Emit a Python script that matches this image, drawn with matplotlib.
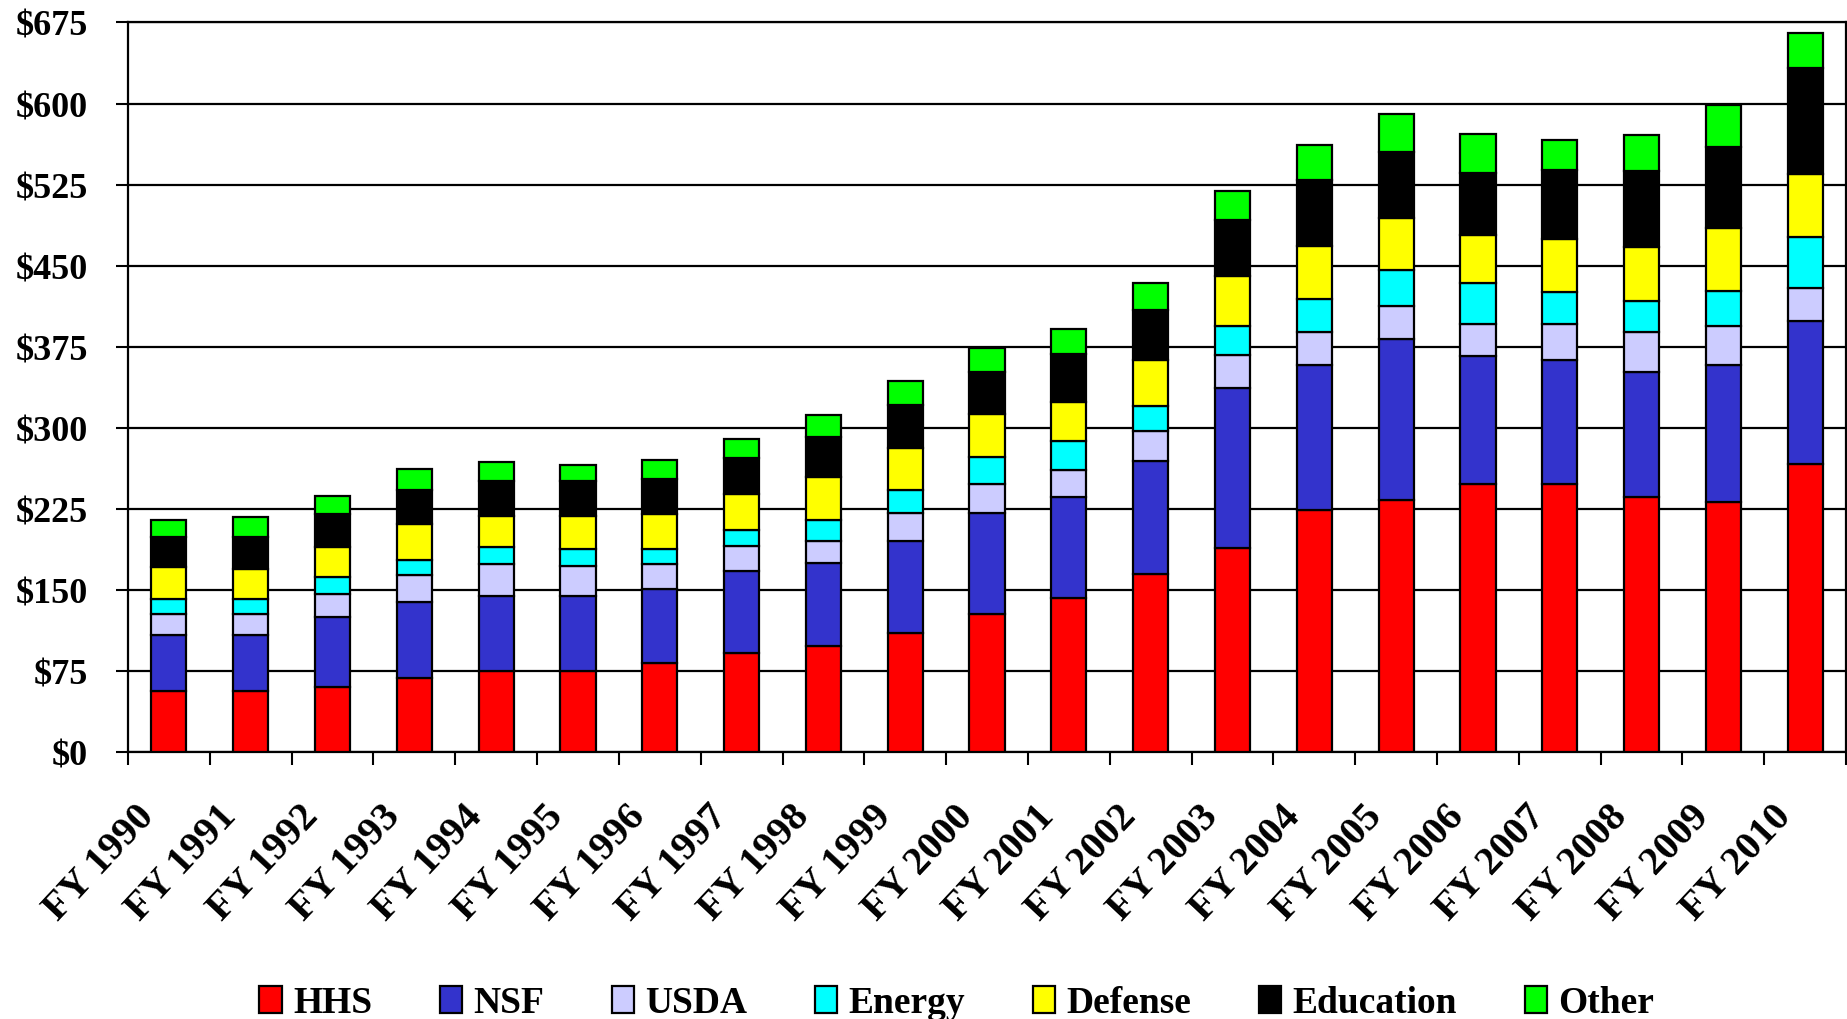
import matplotlib
matplotlib.use("Agg")
import matplotlib.pyplot as plt
import matplotlib.transforms as mtransforms
import numpy as np

# R&D obligations by agency, $ millions
years = ["FY 1990", "FY 1991", "FY 1992", "FY 1993", "FY 1994", "FY 1995", "FY 1996",
         "FY 1997", "FY 1998", "FY 1999", "FY 2000", "FY 2001", "FY 2002", "FY 2003",
         "FY 2004", "FY 2005", "FY 2006", "FY 2007", "FY 2008", "FY 2009", "FY 2010"]
hhs = [56, 56.5, 60.5, 68.5, 75, 75, 82, 91.5, 98.5, 110.5, 127.5, 142, 165,
       188.5, 224, 233.5, 247.5, 247.5, 236, 231.5, 266]
nsf = [52, 51.5, 64.5, 70, 69, 69, 68.5, 75.5, 76, 85, 94, 93.5, 104,
       148.5, 134.5, 148.5, 118.5, 115.5, 115.5, 127, 132.5]
usda = [19.5, 19.5, 21, 25.5, 30, 28, 23.5, 23.5, 21, 26, 26, 25.5, 28,
        30.5, 30.5, 31, 30, 33, 37.5, 35.5, 31]
energy = [14, 14, 16, 14, 16, 16, 14, 14.5, 19, 21, 25.5, 26.5, 23.5,
          26.5, 30.5, 33, 37.5, 30, 28, 32.5, 47]
defense = [30, 27.5, 28, 33, 28.5, 30.5, 32.5, 34, 39.5, 38.5, 39.5, 36.5, 42,
           46.5, 48.5, 48.5, 44.5, 49, 50.5, 58, 58]
education = [27, 30, 30.5, 31.5, 32, 32, 32, 33, 37, 40.5, 39, 44, 46,
             51.5, 61, 60.5, 58, 63.5, 70.5, 75, 98]
other = [16, 18.5, 16, 19, 18, 15, 18, 18, 20.5, 22, 22, 23, 25.5,
         27, 32.5, 35, 35.5, 27.5, 32.5, 39.5, 32.5]

series = [("HHS", hhs, "#FF0000"), ("NSF", nsf, "#3333CC"), ("USDA", usda, "#CCCCFF"),
          ("Energy", energy, "#00FFFF"), ("Defense", defense, "#FFFF00"),
          ("Education", education, "#000000"), ("Other", other, "#00FF00")]

plt.rcParams['font.family'] = ['Liberation Serif', 'DejaVu Serif']
plt.rcParams['font.weight'] = 'bold'

fig = plt.figure(figsize=(18.47, 10.20), dpi=100)
ax = fig.add_axes([0.0693, 0.2618, 0.9302, 0.7152])

x = np.arange(len(years))
bottom = np.zeros(len(years))
for name, vals, col in series:
    ax.bar(x, vals, width=0.43, bottom=bottom, color=col, edgecolor='black',
           linewidth=1.6, label=name, zorder=3)
    bottom += np.array(vals)

ax.set_ylim(0, 675)
ax.set_xlim(-0.5, len(years) - 0.5)
yt = np.arange(0, 676, 75)
ax.set_yticks(yt, ["$%d" % v for v in yt])
ax.yaxis.grid(True, color='black', linewidth=1.6, zorder=0)
ax.set_axisbelow(True)

for s in ['left', 'right', 'top', 'bottom']:
    ax.spines[s].set_linewidth(1.6)

ax.tick_params(axis='y', length=9, width=1.5, pad=20, labelsize=26)
ax.set_xticks(x, years)
ax.set_xticks(np.arange(-0.5, len(years), 1), minor=True)
ax.tick_params(axis='x', which='major', length=0, pad=0, labelsize=29)
ax.tick_params(axis='x', which='minor', length=9, width=1.5)

offset = mtransforms.ScaledTranslation(-0.2, -0.58, fig.dpi_scale_trans)
for lab in ax.get_xticklabels():
    lab.set_rotation(47)
    lab.set_ha('right')
    lab.set_va('center')
    lab.set_rotation_mode('anchor')
    lab.set_transform(lab.get_transform() + offset)

ax.legend(loc='lower center', bbox_to_anchor=(0.518, -0.016), ncol=7, frameon=False,
          fontsize=27, handlelength=0.6, handleheight=0.75, handletextpad=0.3,
          columnspacing=1.8, bbox_transform=fig.transFigure, borderaxespad=0)

plt.savefig('out.png', dpi=100)
